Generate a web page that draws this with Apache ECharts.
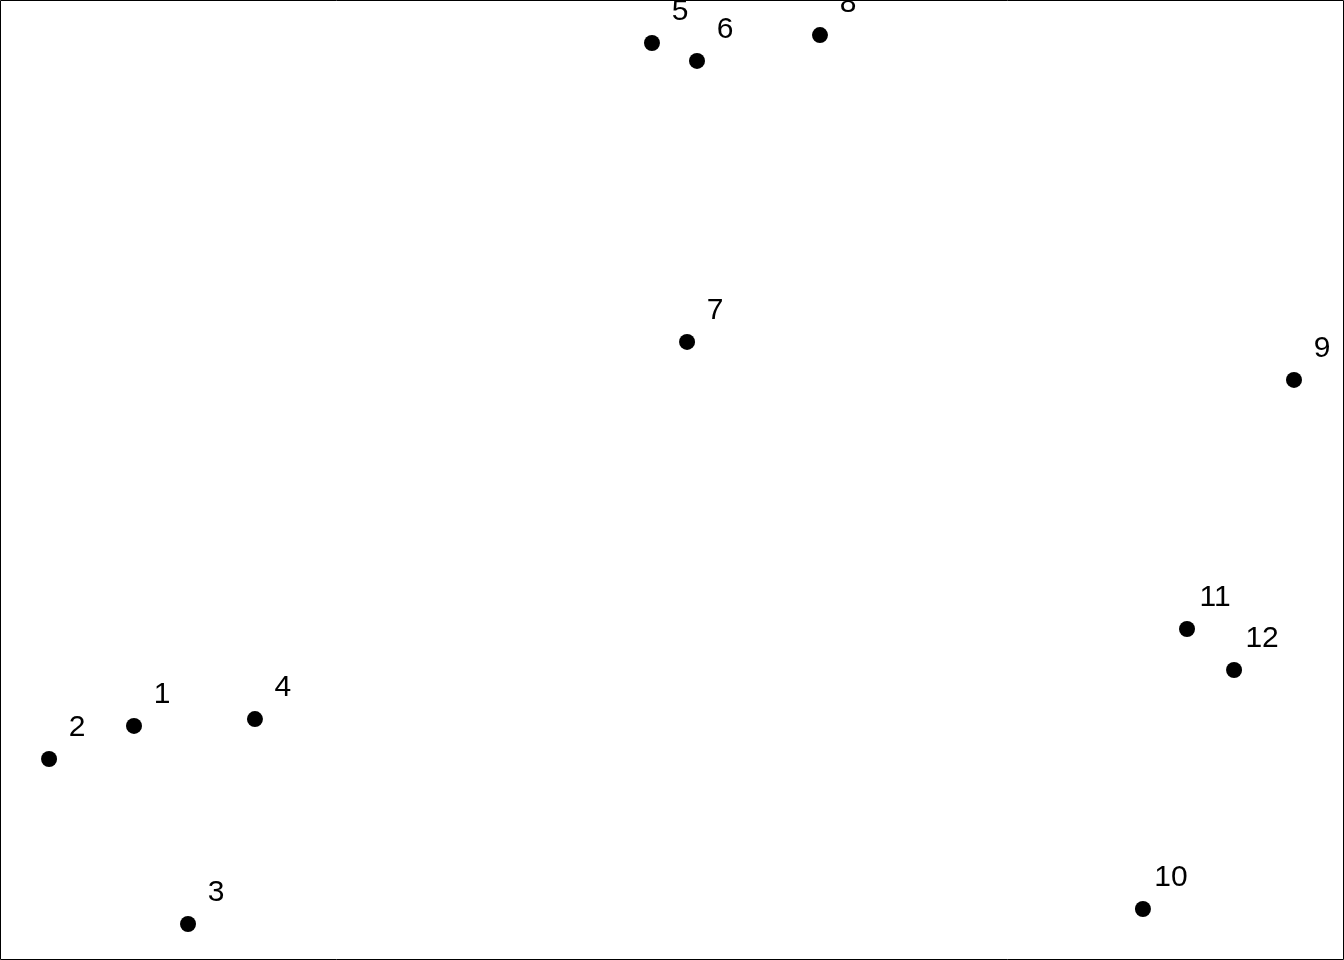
<!DOCTYPE html>
<html>
<head>
<meta charset="utf-8">
<script src="https://cdn.jsdelivr.net/npm/echarts@6/dist/echarts.min.js"></script>
<style>
html,body{margin:0;padding:0;background:#fff;}
#chart{width:1344px;height:960px;}
</style>
</head>
<body>
<div id="chart"></div>
<script>
const labels = ['1','2','3','4','5','6','7','8','9','10','11','12'];
const xValues = [9.97, 3.65, 13.99, 18.97, 48.51, 51.86, 51.12, 61.01, 96.28, 85.04, 88.32, 91.82];
const yValues = [24.38, 20.94, 3.75, 25.10, 95.52, 93.65, 64.38, 96.35, 60.42, 5.31, 34.48, 30.21];

const data = labels.map((l, i) => ({ name: l, value: [xValues[i], yValues[i]] }));

const chart = echarts.init(document.getElementById('chart'), null, { renderer: 'canvas' });
chart.setOption({
  animation: false,
  backgroundColor: '#ffffff',
  grid: { left: 0, right: 0, top: 0, bottom: 0 },
  xAxis: { type: 'value', min: 0, max: 100, show: false },
  yAxis: { type: 'value', min: 0, max: 100, show: false },
  graphic: [{
    type: 'rect',
    shape: { x: 0.5, y: 0.5, width: 1343, height: 959 },
    style: { fill: 'none', stroke: '#000', lineWidth: 1 },
    z: 100
  }],
  series: [{
    type: 'scatter',
    symbol: 'circle',
    symbolSize: 16,
    itemStyle: { color: '#000', opacity: 1 },
    data: data,
    label: {
      show: true,
      position: 'inside',
      offset: [28, -31],
      formatter: p => p.name,
      color: '#000',
      opacity: 1,
      fontFamily: 'Liberation Sans, Arial, sans-serif',
      fontSize: 30,
      align: 'center',
      verticalAlign: 'middle'
    }
  }]
});
</script>
</body>
</html>
